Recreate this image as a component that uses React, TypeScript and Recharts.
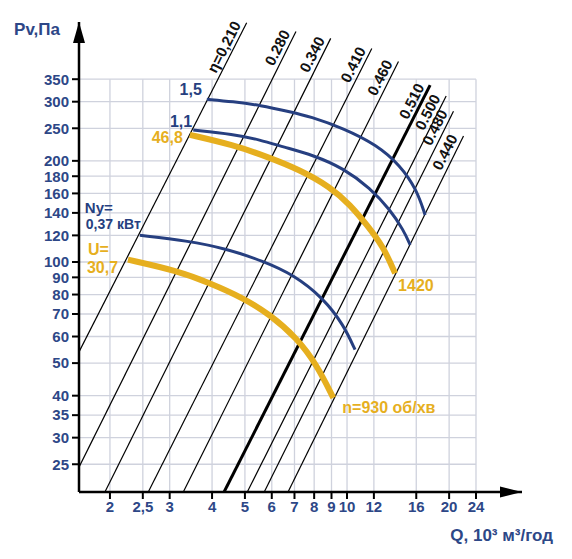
import React from 'react';
import { ComposedChart, Line, XAxis, YAxis, ReferenceLine, ReferenceDot } from 'recharts';

const FONT = '"Liberation Sans", Arial, Helvetica, sans-serif';
const BLUE = '#263f80';
const GOLD = '#e6af1f';
const TICK = '#2d4787';
const GRID = '#cfd2dd';

// axes
const qTicks = [2, 2.5, 3, 4, 5, 6, 7, 8, 9, 10, 12, 16, 20, 24];
const pTicks = [25, 30, 35, 40, 50, 60, 70, 80, 90, 100, 120, 140, 160, 180, 200, 250, 300, 350];
const qRange = [1.621, 32.8];
const pRange = [20.67, 518];
const gridQMax = 24;
const gridPMax = 350;

// motor power curves (blue)
const power037 = [
  { q: 2.45, p: 120.1 }, { q: 3.37, p: 115.7 }, { q: 4.42, p: 109.5 }, { q: 5.67, p: 100.5 },
  { q: 6.95, p: 91.7 }, { q: 8.51, p: 78.1 }, { q: 9.76, p: 65.1 }, { q: 10.56, p: 54.8 },
];
const power11 = [
  { q: 3.52, p: 247 }, { q: 4.62, p: 240 }, { q: 5.54, p: 231 }, { q: 6.49, p: 220 },
  { q: 7.96, p: 208 }, { q: 9.76, p: 190 }, { q: 11.7, p: 166 }, { q: 13.4, p: 143 },
  { q: 14.67, p: 124.5 }, { q: 15.35, p: 112.4 },
];
const power15 = [
  { q: 3.86, p: 305 }, { q: 4.61, p: 300 }, { q: 5.54, p: 293 }, { q: 6.79, p: 280 },
  { q: 7.78, p: 271 }, { q: 9.76, p: 250 }, { q: 12.24, p: 223 }, { q: 14.34, p: 194 },
  { q: 16.06, p: 164 }, { q: 16.99, p: 138 },
];

// speed curves (gold)
const speed930 = [
  { q: 2.26, p: 101.6 }, { q: 3.15, p: 94.2 }, { q: 3.94, p: 86.6 }, { q: 4.95, p: 78.1 },
  { q: 5.93, p: 69.7 }, { q: 7.11, p: 59.4 }, { q: 8.14, p: 49.5 }, { q: 9.11, p: 39.4 },
];
const speed1420 = [
  { q: 3.44, p: 239 }, { q: 4.62, p: 223 }, { q: 5.8, p: 206 }, { q: 7.27, p: 188 },
  { q: 8.91, p: 167.5 }, { q: 10.21, p: 148 }, { q: 11.44, p: 129 }, { q: 12.8, p: 111 },
  { q: 13.86, p: 92.5 },
];

// efficiency lines
const etaNames = ['η=0,210', '0.280', '0.340', '0.410', '0.460', '0.510', '0.500', '0.480', '0.440'];
const etaLowQ = [1.621, 1.621, 1.933, 2.594, 3.29, 4.34, 5.08, 5.7, 6.7];
const etaLowP = [54.0, 24.5, 20.67, 20.67, 20.67, 20.67, 20.67, 20.67, 20.67];
const etaHighQ = [5.06, 7.07, 8.95, 11.83, 14.18, 17.58, 19.6, 20.6, 22.05];
const etaHighP = [515, 485, 463, 432, 395, 336, 312, 281, 237];
const etaBold = '0.510';

const etaSeries = etaNames.map((name, i) => ({
  name,
  data: [
    { q: etaLowQ[i], p: etaLowP[i] },
    { q: etaHighQ[i], p: etaHighP[i] },
  ],
}));

const fmt = (v: number) => String(v).replace('.', ',');

const txt = {
  fontFamily: FONT,
  fontWeight: 'bold' as const,
  fontSize: 16,
};

function etaLabel(name: string) {
  return (props: any) => {
    const { x, y, index } = props;
    if (index !== 1) return <g key={`e${index}`} />;
    return (
      <text
        key={`e${index}`}
        x={x}
        y={y}
        dx={-4}
        dy={-4}
        transform={`rotate(-63 ${x} ${y})`}
        textAnchor="end"
        fill="#111"
        {...txt}
        fontSize={15}
      >
        {name}
      </text>
    );
  };
}

type Lbl = {
  at: 'start' | 'end';
  lines: { text: string; dx: number; dy: number; anchor: string; size?: number }[];
};

function curveLabel(len: number, color: string, spec: Lbl) {
  return (props: any) => {
    const { x, y, index } = props;
    const want = spec.at === 'start' ? 0 : len - 1;
    if (index !== want) return <g key={`c${index}`} />;
    return (
      <g key={`c${index}`}>
        {spec.lines.map((l, i) => (
          <text
            key={i}
            x={x + l.dx}
            y={y + l.dy}
            textAnchor={l.anchor}
            fill={color}
            {...txt}
            fontSize={l.size ?? 16}
          >
            {l.text}
          </text>
        ))}
      </g>
    );
  };
}

const XArrow = (p: any) => (
  <g>
    <path d={`M${p.cx},${p.cy} L${p.cx - 22},${p.cy - 5.5} L${p.cx - 22},${p.cy + 5.5} Z`} fill="#000" />
    <text x={p.cx + 31} y={p.cy + 49} textAnchor="end" fill={TICK} {...txt} fontSize={17}>
      Q, 10³ м³/год
    </text>
  </g>
);

const YArrow = (p: any) => (
  <g>
    <path d={`M${p.cx},${p.cy} L${p.cx - 6},${p.cy + 21} L${p.cx + 6},${p.cy + 21} Z`} fill="#000" />
    <text x={p.cx - 19} y={p.cy + 13} textAnchor="end" fill={TICK} {...txt} fontSize={17}>
      Pv,Па
    </text>
  </g>
);

const curveProps = {
  dataKey: 'p',
  type: 'basis' as const,
  dot: false,
  activeDot: false,
  isAnimationActive: false,
};

export default function App() {
  return (
    <div style={{ width: 556, height: 543 }}>
      <ComposedChart width={556} height={543} margin={{ top: 14, right: 42, bottom: 29, left: 11 }}>
        <XAxis
          dataKey="q"
          type="number"
          scale="log"
          domain={qRange}
          allowDataOverflow
          ticks={qTicks}
          interval={0}
          tickFormatter={fmt}
          height={30}
          tickSize={7}
          tickMargin={2}
          tick={{ fill: TICK, fontSize: 15, fontWeight: 'bold', fontFamily: FONT }}
          tickLine={{ stroke: '#000', strokeWidth: 2 }}
          axisLine={{ stroke: '#000', strokeWidth: 2.5 }}
        />
        <YAxis
          dataKey="p"
          type="number"
          scale="log"
          domain={pRange}
          allowDataOverflow
          ticks={pTicks}
          interval={0}
          width={60}
          tickSize={7}
          tickMargin={3}
          tick={{ fill: TICK, fontSize: 15, fontWeight: 'bold', fontFamily: FONT }}
          tickLine={{ stroke: '#000', strokeWidth: 2 }}
          axisLine={{ stroke: '#000', strokeWidth: 2.5 }}
        />
        {qTicks.map((t) => (
          <ReferenceLine
            key={`vg${t}`}
            segment={[{ x: t, y: pRange[0] }, { x: t, y: gridPMax }]}
            stroke={GRID}
            strokeWidth={1.3}
            ifOverflow="visible"
          />
        ))}
        {pTicks.map((t) => (
          <ReferenceLine
            key={`hg${t}`}
            segment={[{ x: qRange[0], y: t }, { x: gridQMax, y: t }]}
            stroke={GRID}
            strokeWidth={1.3}
            ifOverflow="visible"
          />
        ))}
        {etaSeries.map((s) => (
          <Line
            key={s.name}
            data={s.data}
            dataKey="p"
            type="linear"
            stroke="#000"
            strokeWidth={s.name === etaBold ? 3 : 1.2}
            dot={false}
            activeDot={false}
            isAnimationActive={false}
            label={etaLabel(s.name)}
          />
        ))}
        <Line
          {...curveProps}
          data={power037}
          stroke={BLUE}
          strokeWidth={3}
          label={curveLabel(power037.length, BLUE, {
            at: 'start',
            lines: [
              { text: 'Ny=', dx: -55, dy: -22, anchor: 'start', size: 15 },
              { text: '0,37 кВт', dx: -54, dy: -6, anchor: 'start', size: 14 },
            ],
          })}
        />
        <Line
          {...curveProps}
          data={power11}
          stroke={BLUE}
          strokeWidth={3}
          label={curveLabel(power11.length, BLUE, {
            at: 'start',
            lines: [{ text: '1,1', dx: -1, dy: -3, anchor: 'end' }],
          })}
        />
        <Line
          {...curveProps}
          data={power15}
          stroke={BLUE}
          strokeWidth={3}
          label={curveLabel(power15.length, BLUE, {
            at: 'start',
            lines: [{ text: '1,5', dx: -5, dy: -4, anchor: 'end' }],
          })}
        />
        <Line
          {...curveProps}
          data={speed930}
          stroke={GOLD}
          strokeWidth={6}
          label={curveLabel(speed930.length, GOLD, {
            at: 'start',
            lines: [
              { text: 'U=', dx: -40, dy: -5, anchor: 'start' },
              { text: '30,7', dx: -41, dy: 13, anchor: 'start' },
            ],
          })}
        />
        <Line
          {...curveProps}
          data={speed930}
          stroke="none"
          label={curveLabel(speed930.length, GOLD, {
            at: 'end',
            lines: [{ text: 'n=930 об/хв', dx: 9, dy: 15, anchor: 'start' }],
          })}
        />
        <Line
          {...curveProps}
          data={speed1420}
          stroke={GOLD}
          strokeWidth={6}
          label={curveLabel(speed1420.length, GOLD, {
            at: 'start',
            lines: [{ text: '46,8', dx: -7, dy: 8, anchor: 'end' }],
          })}
        />
        <Line
          {...curveProps}
          data={speed1420}
          stroke="none"
          label={curveLabel(speed1420.length, GOLD, {
            at: 'end',
            lines: [{ text: '1420', dx: 3, dy: 18, anchor: 'start' }],
          })}
        />
        <ReferenceDot x={qRange[1]} y={pRange[0]} ifOverflow="visible" shape={XArrow} />
        <ReferenceDot x={qRange[0]} y={pRange[1]} ifOverflow="visible" shape={YArrow} />
      </ComposedChart>
    </div>
  );
}
